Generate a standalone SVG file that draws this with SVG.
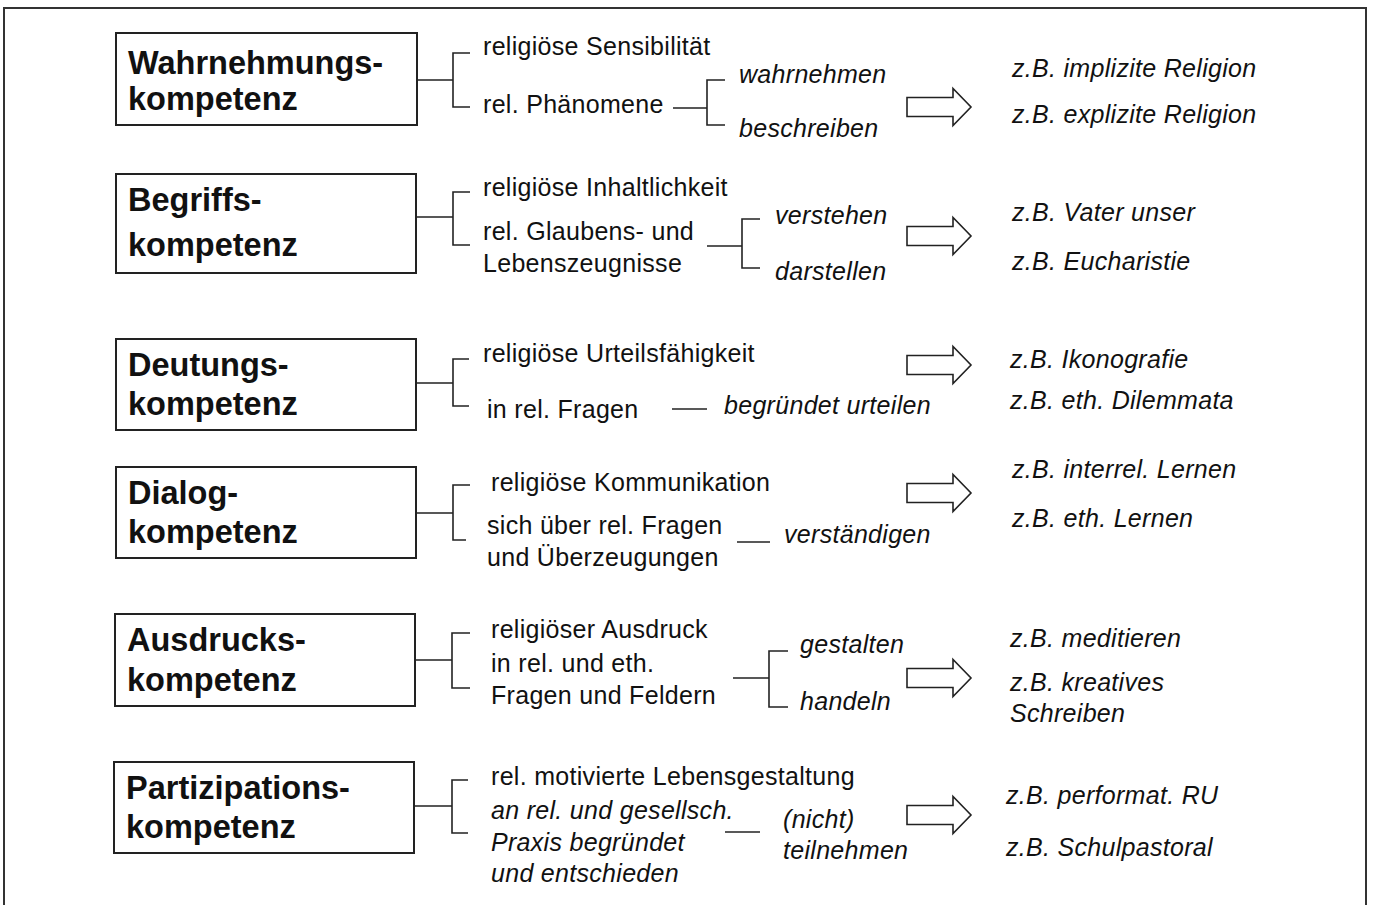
<svg xmlns="http://www.w3.org/2000/svg" width="1376" height="905" viewBox="0 0 1376 905">
<style>
.t{font-family:"Liberation Sans",Arial,sans-serif;font-size:25px;fill:#111;letter-spacing:0.3px}
.i{font-style:italic}
.h{font-family:"Liberation Sans",Arial,sans-serif;font-size:32.5px;font-weight:bold;fill:#111}
.box{fill:#fff;stroke:#222;stroke-width:2}
.ln{fill:none;stroke:#222;stroke-width:1.6}
.arr{fill:#fff;stroke:#222;stroke-width:1.6;stroke-linejoin:miter}
</style>
<defs>
<polygon id="ar" class="arr" points="907,-9.5 953,-9.5 953,-18.5 971,0 953,18.5 953,9.5 907,9.5"/>
</defs>
<rect x="0" y="0" width="1376" height="905" fill="#fff"/>
<rect x="4" y="8" width="1362" height="910" fill="none" stroke="#333" stroke-width="2"/>

<g id="connectors">
<path class="ln" d="M417,80 H453 M470,53 H453 V107 H470"/>
<path class="ln" d="M673,108 H707 M725,80 H707 V125 H725"/>
<path class="ln" d="M416,217 H453 M470,192 H453 V245 H470"/>
<path class="ln" d="M707,246 H742 M760,219 H742 V268 H760"/>
<path class="ln" d="M416,383 H453 M469,359 H453 V406 H469"/>
<path class="ln" d="M672,409 H707"/>
<path class="ln" d="M416,513 H453 M470,485 H453 V540 H466"/>
<path class="ln" d="M737,542 H770"/>
<path class="ln" d="M415,660 H452 M470,633 H452 V688 H470"/>
<path class="ln" d="M733,678 H769 M788,651 H769 V707 H788"/>
<path class="ln" d="M414,806 H452 M468,780 H452 V833 H468"/>
<path class="ln" d="M725,832 H760"/>
<use href="#ar" transform="translate(0,107)"/>
<use href="#ar" transform="translate(0,236)"/>
<use href="#ar" transform="translate(0,365)"/>
<use href="#ar" transform="translate(0,493)"/>
<use href="#ar" transform="translate(0,678)"/>
<use href="#ar" transform="translate(0,815)"/>
</g>

<g id="wahrnehmung">
<rect class="box" x="116" y="33" width="301" height="92"/>
<text class="h" x="128" y="74">Wahrnehmungs-</text>
<text class="h" x="128" y="110">kompetenz</text>
</g>
<g id="wahrnehmung-items">
<text class="t" x="483" y="55">religiöse Sensibilität</text>
<text class="t" x="483" y="113">rel. Phänomene</text>
<text class="t i" x="739" y="83">wahrnehmen</text>
<text class="t i" x="739" y="137">beschreiben</text>
<text class="t i" x="1012" y="77">z.B. implizite Religion</text>
<text class="t i" x="1012" y="123">z.B. explizite Religion</text>
</g>

<g id="begriff">
<rect class="box" x="116" y="174" width="300" height="99"/>
<text class="h" x="128" y="211">Begriffs-</text>
<text class="h" x="128" y="256">kompetenz</text>
</g>
<g id="begriff-items">
<text class="t" x="483" y="196">religiöse Inhaltlichkeit</text>
<text class="t" x="483" y="240">rel. Glaubens- und</text>
<text class="t" x="483" y="272">Lebenszeugnisse</text>
<text class="t i" x="775" y="224">verstehen</text>
<text class="t i" x="775" y="280">darstellen</text>
<text class="t i" x="1012" y="221">z.B. Vater unser</text>
<text class="t i" x="1012" y="270">z.B. Eucharistie</text>
</g>

<g id="deutung">
<rect class="box" x="116" y="339" width="300" height="91"/>
<text class="h" x="128" y="376">Deutungs-</text>
<text class="h" x="128" y="415">kompetenz</text>
</g>
<g id="deutung-items">
<text class="t" x="483" y="362">religiöse Urteilsfähigkeit</text>
<text class="t" x="487" y="418">in rel. Fragen</text>
<text class="t i" x="724" y="414">begründet urteilen</text>
<text class="t i" x="1010" y="368">z.B. Ikonografie</text>
<text class="t i" x="1010" y="409">z.B. eth. Dilemmata</text>
</g>

<g id="dialog">
<rect class="box" x="116" y="467" width="300" height="91"/>
<text class="h" x="128" y="504">Dialog-</text>
<text class="h" x="128" y="543">kompetenz</text>
</g>
<g id="dialog-items">
<text class="t" x="491" y="491">religiöse Kommunikation</text>
<text class="t" x="487" y="534">sich über rel. Fragen</text>
<text class="t" x="487" y="566">und Überzeugungen</text>
<text class="t i" x="784" y="543">verständigen</text>
<text class="t i" x="1012" y="478">z.B. interrel. Lernen</text>
<text class="t i" x="1012" y="527">z.B. eth. Lernen</text>
</g>

<g id="ausdruck">
<rect class="box" x="115" y="614" width="300" height="92"/>
<text class="h" x="127" y="651">Ausdrucks-</text>
<text class="h" x="127" y="691">kompetenz</text>
</g>
<g id="ausdruck-items">
<text class="t" x="491" y="638">religiöser Ausdruck</text>
<text class="t" x="491" y="672">in rel. und eth.</text>
<text class="t" x="491" y="704">Fragen und Feldern</text>
<text class="t i" x="800" y="653">gestalten</text>
<text class="t i" x="800" y="710">handeln</text>
<text class="t i" x="1010" y="647">z.B. meditieren</text>
<text class="t i" x="1010" y="691">z.B. kreatives</text>
<text class="t i" x="1010" y="722">Schreiben</text>
</g>

<g id="partizipation">
<rect class="box" x="114" y="762" width="300" height="91"/>
<text class="h" x="126" y="799">Partizipations-</text>
<text class="h" x="126" y="838">kompetenz</text>
</g>
<g id="partizipation-items">
<text class="t" x="491" y="785">rel. motivierte Lebensgestaltung</text>
<text class="t i" x="491" y="819">an rel. und gesellsch.</text>
<text class="t i" x="491" y="851">Praxis begründet</text>
<text class="t i" x="491" y="882">und entschieden</text>
<text class="t i" x="783" y="828">(nicht)</text>
<text class="t i" x="783" y="859">teilnehmen</text>
<text class="t i" x="1006" y="804">z.B. performat. RU</text>
<text class="t i" x="1006" y="856">z.B. Schulpastoral</text>
</g>
</svg>
